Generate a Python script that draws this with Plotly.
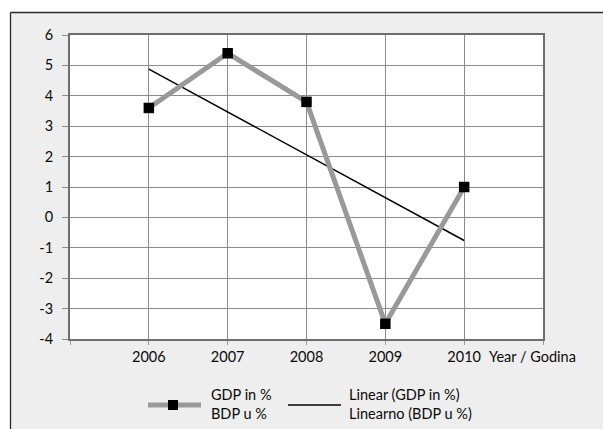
import numpy as np
import plotly.graph_objects as go

# GDP growth by year
years = [2006, 2007, 2008, 2009, 2010]
gdp = [3.6, 5.4, 3.8, -3.5, 1.0]
year_labels = ["2006", "2007", "2008", "2009", "2010"]
y_ticks = [-4, -3, -2, -1, 0, 1, 2, 3, 4, 5, 6]
y_labels = ["-4", "-3", "-2", "-1", "0", "1", "2", "3", "4", "5", "6"]

# least-squares linear trend of the GDP series
slope, intercept = np.polyfit(years, gdp, 1)
trend = [slope * x + intercept for x in years]

FONT = "Lato"
TXT = "#0a0a0a"
GRID = "#8c8c8c"
W, H = 603, 429
ML, MR, MT, MB = 70, 60, 35, 90
PW, PH = W - ML - MR, H - MT - MB


def px(x):
    return (x - ML) / PW


def py(y):
    return 1 - (y - MT) / PH


fig = go.Figure()
fig.add_trace(go.Scatter(
    x=years, y=trend, mode="lines", name="Linear (GDP in %)<br>Linearno (BDP u %)",
    line=dict(color="black", width=1.5),
    showlegend=False,
))
fig.add_trace(go.Scatter(
    x=years, y=gdp, mode="lines+markers", name="GDP in %<br>BDP u %",
    line=dict(color="#999999", width=5),
    marker=dict(symbol="square", size=10.5, color="black"),
    showlegend=False,
))

shapes = [
    # white margin outside the chart frame
    dict(type="rect", xref="paper", yref="paper", x0=px(-20), x1=px(10), y0=py(H + 20), y1=py(-20),
         fillcolor="white", line=dict(width=0), layer="above"),
    dict(type="rect", xref="paper", yref="paper", x0=px(-20), x1=px(W + 20), y0=py(12), y1=py(-20),
         fillcolor="white", line=dict(width=0), layer="above"),
    dict(type="line", xref="paper", yref="paper", x0=px(10.5), x1=px(W + 5), y0=py(12.5), y1=py(12.5),
         line=dict(color="#2a2a2a", width=1.3), layer="above"),
    dict(type="line", xref="paper", yref="paper", x0=px(10.5), x1=px(10.5), y0=py(12.5), y1=py(H + 5),
         line=dict(color="#2a2a2a", width=1.3), layer="above"),
    # legend keys
    dict(type="line", xref="paper", yref="paper", x0=px(148), x1=px(201), y0=py(405), y1=py(405),
         line=dict(color="#999999", width=5), layer="above"),
    dict(type="rect", xref="paper", yref="paper", x0=px(168), x1=px(178), y0=py(410), y1=py(400),
         fillcolor="black", line=dict(width=0), layer="above"),
    dict(type="line", xref="paper", yref="paper", x0=px(288), x1=px(341), y0=py(405), y1=py(405),
         line=dict(color="black", width=1.5), layer="above"),
]

annotations = [
    dict(text="Year / Godina", xref="paper", yref="paper", x=px(487), y=py(356),
         xanchor="left", yanchor="middle", showarrow=False, font=dict(family=FONT, size=14.5, color=TXT)),
    dict(text=fig.data[1].name, xref="paper", yref="paper", x=px(209), y=py(404),
         xanchor="left", yanchor="middle", align="left", showarrow=False,
         font=dict(family=FONT, size=14.5, color=TXT)),
    dict(text=fig.data[0].name, xref="paper", yref="paper", x=px(347), y=py(404),
         xanchor="left", yanchor="middle", align="left", showarrow=False,
         font=dict(family=FONT, size=14.5, color=TXT)),
]

fig.update_layout(
    width=W, height=H,
    margin=dict(l=ML, r=MR, t=MT, b=MB),
    paper_bgcolor="#eeeeee", plot_bgcolor="white",
    font=dict(family=FONT, size=14.5, color=TXT),
    shapes=shapes, annotations=annotations,
    showlegend=False,
)
fig.update_xaxes(
    range=[2005, 2011],
    tickvals=[2005] + years + [2011], ticktext=[""] + year_labels + [""],
    showgrid=True, gridcolor=GRID, gridwidth=1,
    showline=True, linecolor="#6e6e6e", linewidth=2, mirror=True,
    ticks="outside", ticklen=4, tickcolor="#9a9a9a", zeroline=False,
)
fig.update_yaxes(
    range=[-4, 6], tickvals=y_ticks, ticktext=y_labels,
    showgrid=True, gridcolor=GRID, gridwidth=1,
    showline=True, linecolor="#6e6e6e", linewidth=2, mirror=True,
    ticks="outside", ticklen=6, tickcolor="#8c8c8c", zeroline=False,
    ticklabelstandoff=6,
)

fig.write_html("out.html")
